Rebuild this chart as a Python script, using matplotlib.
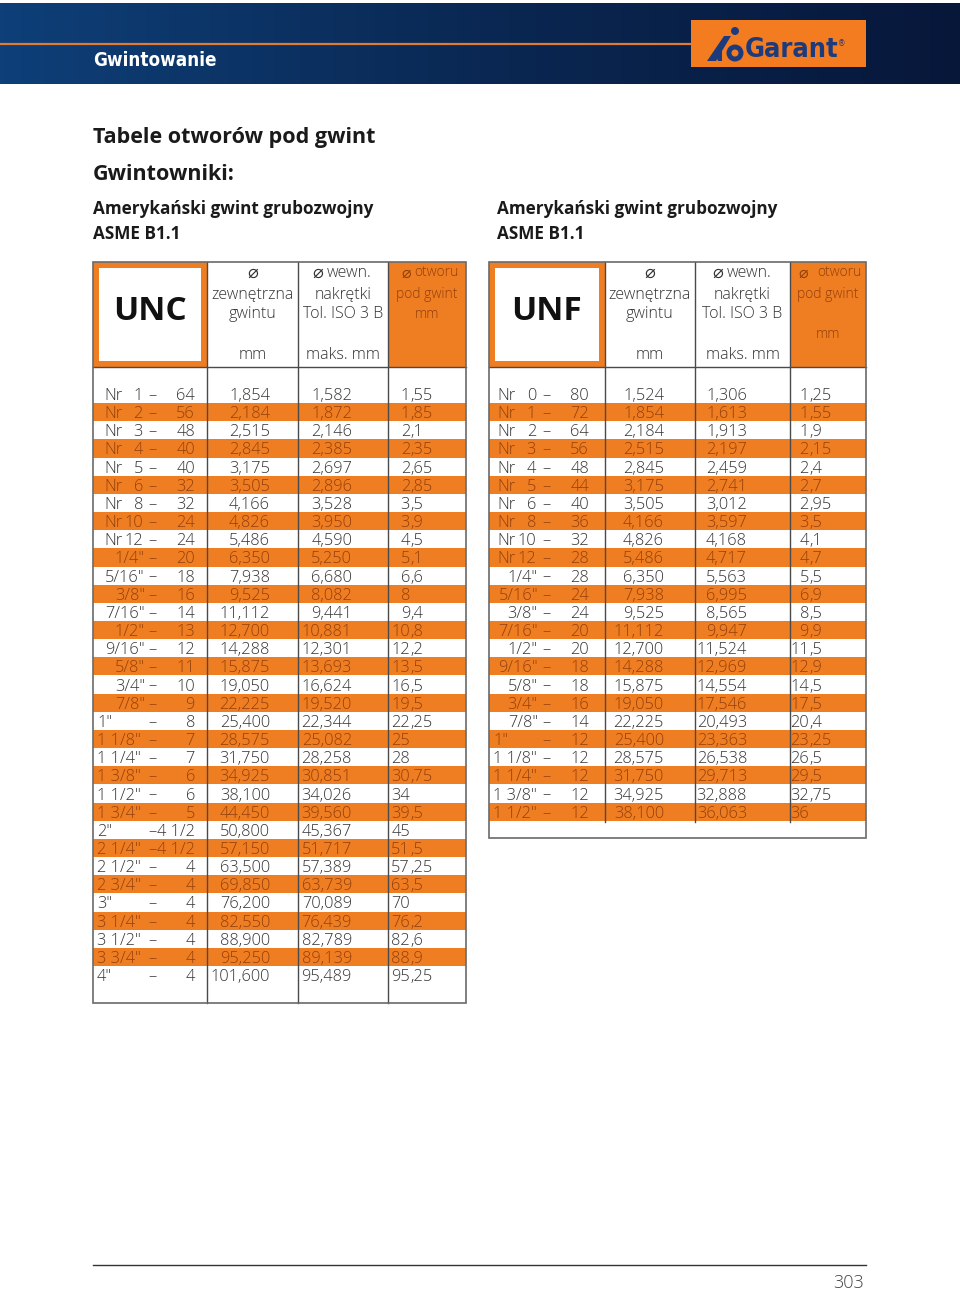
import matplotlib.pyplot as plt
import numpy as np
from matplotlib.patches import Rectangle, Circle, Polygon
from matplotlib.colors import LinearSegmentedColormap

# UNC table data
unc_size = ['Nr 1', 'Nr 2', 'Nr 3', 'Nr 4', 'Nr 5', 'Nr 6', 'Nr 8', 'Nr 10', 'Nr 12',
            '1/4"', '5/16"', '3/8"', '7/16"', '1/2"', '9/16"', '5/8"', '3/4"', '7/8"',
            '1"', '1 1/8"', '1 1/4"', '1 3/8"', '1 1/2"', '1 3/4"', '2"', '2 1/4"',
            '2 1/2"', '2 3/4"', '3"', '3 1/4"', '3 1/2"', '3 3/4"', '4"']
unc_tpi = ['64', '56', '48', '40', '40', '32', '32', '24', '24', '20', '18', '16', '14',
           '13', '12', '11', '10', '9', '8', '7', '7', '6', '6', '5', '4 1/2', '4 1/2',
           '4', '4', '4', '4', '4', '4', '4']
unc_outer = ['1,854', '2,184', '2,515', '2,845', '3,175', '3,505', '4,166', '4,826',
             '5,486', '6,350', '7,938', '9,525', '11,112', '12,700', '14,288', '15,875',
             '19,050', '22,225', '25,400', '28,575', '31,750', '34,925', '38,100',
             '44,450', '50,800', '57,150', '63,500', '69,850', '76,200', '82,550',
             '88,900', '95,250', '101,600']
unc_inner = ['1,582', '1,872', '2,146', '2,385', '2,697', '2,896', '3,528', '3,950',
             '4,590', '5,250', '6,680', '8,082', '9,441', '10,881', '12,301', '13,693',
             '16,624', '19,520', '22,344', '25,082', '28,258', '30,851', '34,026',
             '39,560', '45,367', '51,717', '57,389', '63,739', '70,089', '76,439',
             '82,789', '89,139', '95,489']
unc_drill = ['1,55', '1,85', '2,1', '2,35', '2,65', '2,85', '3,5', '3,9', '4,5', '5,1',
             '6,6', '8', '9,4', '10,8', '12,2', '13,5', '16,5', '19,5', '22,25', '25',
             '28', '30,75', '34', '39,5', '45', '51,5', '57,25', '63,5', '70', '76,2',
             '82,6', '88,9', '95,25']

# UNF table data
unf_size = ['Nr 0', 'Nr 1', 'Nr 2', 'Nr 3', 'Nr 4', 'Nr 5', 'Nr 6', 'Nr 8', 'Nr 10',
            'Nr 12', '1/4"', '5/16"', '3/8"', '7/16"', '1/2"', '9/16"', '5/8"', '3/4"',
            '7/8"', '1"', '1 1/8"', '1 1/4"', '1 3/8"', '1 1/2"']
unf_tpi = ['80', '72', '64', '56', '48', '44', '40', '36', '32', '28', '28', '24', '24',
           '20', '20', '18', '18', '16', '14', '12', '12', '12', '12', '12']
unf_outer = ['1,524', '1,854', '2,184', '2,515', '2,845', '3,175', '3,505', '4,166',
             '4,826', '5,486', '6,350', '7,938', '9,525', '11,112', '12,700', '14,288',
             '15,875', '19,050', '22,225', '25,400', '28,575', '31,750', '34,925', '38,100']
unf_inner = ['1,306', '1,613', '1,913', '2,197', '2,459', '2,741', '3,012', '3,597',
             '4,168', '4,717', '5,563', '6,995', '8,565', '9,947', '11,524', '12,969',
             '14,554', '17,546', '20,493', '23,363', '26,538', '29,713', '32,888', '36,063']
unf_drill = ['1,25', '1,55', '1,9', '2,15', '2,4', '2,7', '2,95', '3,5', '4,1', '4,7',
             '5,5', '6,9', '8,5', '9,9', '11,5', '12,9', '14,5', '17,5', '20,4', '23,25',
             '26,5', '29,5', '32,75', '36']

ORANGE = '#ef7d22'
ORANGE_TXT = '#93400c'
GREY_TXT = '#333333'
LINE = '#4a4a4a'
FONT = ['Open Sans', 'DejaVu Sans']
COND = dict(family='DejaVu Sans', fontstretch='condensed')

fig = plt.figure(figsize=(9.6, 12.91), dpi=100)
ax = fig.add_axes([0, 0, 1, 1])

# header band
cmap = LinearSegmentedColormap.from_list('band', ['#0e3f78', '#0a2853', '#07173a'])
ax.imshow(np.linspace(0, 1, 256).reshape(1, -1), cmap=cmap, aspect='auto',
          extent=[0, 960, 84, 3], zorder=0)
ax.plot([0, 690], [44, 44], color='#e07b35', lw=1.6, zorder=1)
ax.text(93, 61, 'Gwintowanie', color='white', fontsize=13.5, fontweight='bold',
        va='center', ha='left', **COND)

# logo
navy = '#1d3b7c'
ax.add_patch(Rectangle((691, 20), 175, 47, facecolor='#f47c20', edgecolor='none', zorder=2))
ax.add_patch(Polygon([[707, 61], [716, 61], [731, 36], [724, 36]], closed=True,
                     facecolor=navy, edgecolor='none', zorder=3))
ax.add_patch(Polygon([[718, 61], [722, 61], [722, 48], [716, 56]], closed=True,
                     facecolor=navy, edgecolor='none', zorder=3))
ax.add_patch(Circle((735, 31), 4, facecolor=navy, edgecolor='none', zorder=3))
ax.add_patch(Circle((735, 53), 8.5, facecolor=navy, edgecolor='none', zorder=3))
ax.add_patch(Circle((735, 53), 3.5, facecolor='#f47c20', edgecolor='none', zorder=4))
ax.text(745, 50, 'Garant', color=navy, fontsize=19.5, fontweight='bold',
        va='center', ha='left', zorder=4, **COND)
ax.text(842, 44, '®', color=navy, fontsize=5.5, va='center', ha='center', zorder=4)

# titles
ax.text(93, 138, 'Tabele otworów pod gwint', fontsize=15.5, fontweight='bold',
        family=FONT, color='#1a1a1a', va='center')
ax.text(93, 174, 'Gwintowniki:', fontsize=15.5, fontweight='bold',
        family=FONT, color='#1a1a1a', va='center')
for x in (93, 497):
    ax.text(x, 209, 'Amerykański gwint grubozwojny', fontsize=12.3, fontweight='bold',
            family=FONT, color='#1a1a1a', va='center')
    ax.text(x, 234, 'ASME B1.1', fontsize=12.3, fontweight='bold',
            family=FONT, color='#1a1a1a', va='center')

Y0 = 394
DY = 18.16
TOP = 262
HEAD_BOT = 367


def sym_label(x_sym, x_txt, y, txt, size, color):
    # diameter sign comes from DejaVu Sans, the rest from Open Sans light
    ax.text(x_sym, y, '⌀', fontsize=size + 1.5, family='DejaVu Sans', color=color,
            ha='center', va='center', zorder=4)
    if txt:
        ax.text(x_txt, y, txt, fontsize=size, family=FONT, fontweight='light',
                color=color, ha='left', va='center', zorder=4)


def draw_table(name, cols, bottom, line_bot, sizes, tpi, outer, inner, drill, pos, mm_y,
               sym_off):
    x0, x1, x2, x3, x4 = cols
    n = len(sizes)
    # header
    ax.add_patch(Rectangle((x0, TOP), x1 - x0, HEAD_BOT - TOP, facecolor=ORANGE,
                           edgecolor='none', zorder=2))
    ax.add_patch(Rectangle((x0 + 6, TOP + 6), x1 - x0 - 12, HEAD_BOT - TOP - 12,
                           facecolor='white', edgecolor='none', zorder=3))
    ax.add_patch(Rectangle((x3, TOP), x4 - x3, HEAD_BOT - TOP, facecolor=ORANGE,
                           edgecolor='none', zorder=2))
    ax.text((x0 + x1) / 2, 312, name, fontsize=24, fontweight='bold', family=FONT,
            color='#111111', ha='center', va='center', zorder=4)
    c1 = (x1 + x2) / 2
    c2 = (x2 + x3) / 2
    c3 = (x3 + x4) / 2
    hk = dict(fontsize=11.5, family=FONT, fontweight='light', color=GREY_TXT,
              ha='center', va='center', zorder=4)
    sym_label(c1, c1, 273, '', 11.5, GREY_TXT)
    ax.text(c1, 294, 'zewnętrzna', **hk)
    ax.text(c1, 314, 'gwintu', **hk)
    ax.text(c1, 355, 'mm', **hk)
    sym_label(c2 - 25, c2 - 16, 273, 'wewn.', 11.5, GREY_TXT)
    ax.text(c2, 294, 'nakrętki', **hk)
    ax.text(c2, 314, 'Tol. ISO 3 B', **hk)
    ax.text(c2, 355, 'maks. mm', **hk)
    hk.update(fontsize=10, color=ORANGE_TXT)
    sym_label(c3 - sym_off[0], c3 - sym_off[1], 273, 'otworu', 10, ORANGE_TXT)
    ax.text(c3, 294, 'pod gwint', **hk)
    ax.text(c3, mm_y, 'mm', **hk)

    # rows
    for i in range(n):
        yc = Y0 + i * DY
        if i % 2 == 1:
            ax.add_patch(Rectangle((x0, yc - DY / 2), x4 - x0, DY, facecolor=ORANGE,
                                   edgecolor='none', zorder=1))
            col = ORANGE_TXT
        else:
            col = GREY_TXT
        tk = dict(fontsize=11.8, family=FONT, fontweight='light', color=col,
                  va='baseline', zorder=4)
        yb = yc + 6
        s = sizes[i]
        if s.startswith('Nr'):
            ax.text(pos['nr'], yb, 'Nr', ha='left', **tk)
            ax.text(pos['frac'] - 2, yb, s.split()[1], ha='right', **tk)
        elif ' ' in s or s in ('1"', '2"', '3"', '4"'):
            ax.text(pos['whole'], yb, s, ha='left', **tk)
        else:
            ax.text(pos['frac'], yb, s, ha='right', **tk)
        ax.text(pos['dash'], yb, '–', ha='center', **tk)
        ax.text(pos['tpi'], yb, tpi[i], ha='right', **tk)
        ax.text(pos['outer'], yb, outer[i], ha='right', **tk)
        ax.text(pos['inner'], yb, inner[i], ha='right', **tk)
        parts = drill[i].split(',')
        ax.text(pos['drill'], yb, parts[0], ha='right', **tk)
        if len(parts) > 1:
            ax.text(pos['drill'], yb, ',' + parts[1], ha='left', **tk)

    # grid lines
    for x in (x1, x2, x3):
        ax.plot([x, x], [TOP, line_bot], color=LINE, lw=1, zorder=5)
    ax.plot([x0, x4], [HEAD_BOT, HEAD_BOT], color=LINE, lw=1, zorder=5)
    ax.add_patch(Rectangle((x0, TOP), x4 - x0, bottom - TOP, facecolor='none',
                           edgecolor='#6a6a6a', lw=1.2, zorder=5))


draw_table('UNC', (93, 207, 298, 388, 466), 1003, 1003,
           unc_size, unc_tpi, unc_outer, unc_inner, unc_drill,
           dict(nr=104, whole=97, frac=145, dash=152, tpi=195, outer=270, inner=352,
                drill=410), 314, (21, 13))
draw_table('UNF', (489, 605, 695, 790, 866), 838, 822,
           unf_size, unf_tpi, unf_outer, unf_inner, unf_drill,
           dict(nr=497, whole=493, frac=538, dash=546, tpi=589, outer=664, inner=747,
                drill=809), 335, (25, 11))

# footer
ax.plot([93, 866], [1265, 1265], color='#333333', lw=1)
ax.text(864, 1283, '303', fontsize=13, family=FONT, fontweight='light',
        color='#444444', ha='right', va='center')

ax.set_xlim(0, 960)
ax.set_ylim(1291, 0)
ax.axis('off')
fig.savefig('out.png', dpi=100)
